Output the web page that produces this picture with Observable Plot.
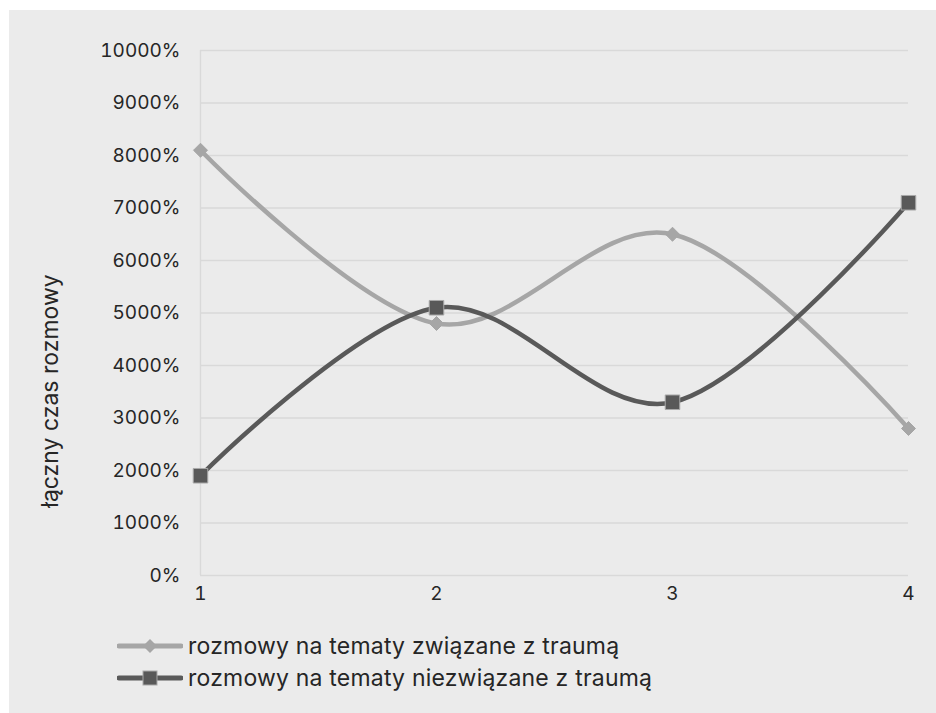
<!DOCTYPE html>
<html>
<head>
<meta charset="utf-8">
<script src="https://cdn.jsdelivr.net/npm/d3@7"></script>
<script src="https://cdn.jsdelivr.net/npm/@observablehq/plot@0.6"></script>
<style>
  html, body { margin: 0; padding: 0; background: #ffffff; }
  body { width: 936px; height: 713px; position: relative; overflow: hidden; font-family: Inter, "Noto Sans", sans-serif; }
  #panel { position: absolute; left: 9px; top: 10px; width: 927px; height: 703px; background: #ebebeb; }
  #chart { position: absolute; left: 0; top: 0; }
  #ylabel { position: absolute; left: 50px; top: 391px; transform: translate(-50%, -50%) rotate(-90deg); white-space: nowrap; font-size: 23px; color: #262626; }
  #legend { position: absolute; left: 117px; top: 630px; font-size: 23px; letter-spacing: 0.2px; color: #262626; }
  .row { display: flex; align-items: center; height: 32px; }
  .row svg { margin-right: 5px; }
</style>
</head>
<body>
<div id="panel"></div>
<div id="chart"></div>
<div id="ylabel"></div>
<div id="legend"></div>
<script>
const categories = [1, 2, 3, 4];
const seriesNames = ["rozmowy na tematy związane z traumą", "rozmowy na tematy niezwiązane z traumą"];
const traumaValues = [8100, 4800, 6500, 2800];
const nonTraumaValues = [1900, 5100, 3300, 7100];
const yTicks = [0, 1000, 2000, 3000, 4000, 5000, 6000, 7000, 8000, 9000, 10000];
const yLabel = "łączny czas rozmowy";
const colors = ["#a6a6a6", "#595959"];

const data = [];
categories.forEach((c, i) => {
  data.push({x: c, y: traumaValues[i], s: seriesNames[0]});
  data.push({x: c, y: nonTraumaValues[i], s: seriesNames[1]});
});
const s1 = data.filter(d => d.s === seriesNames[0]);
const s2 = data.filter(d => d.s === seriesNames[1]);

const chart = Plot.plot({
  width: 936,
  height: 610,
  marginLeft: 200,
  marginRight: 28,
  marginTop: 50,
  marginBottom: 35,
  style: { background: "transparent", fontFamily: "Inter, 'Noto Sans', sans-serif", fontSize: "19px", color: "#262626" },
  x: { domain: [1, 4] },
  y: { domain: [0, 10000] },
  marks: [
    Plot.gridY(yTicks, { stroke: "#d9d9d9", strokeOpacity: 1, strokeWidth: 1.4 }),
    Plot.ruleX([1], { stroke: "#d9d9d9", strokeWidth: 1.4 }),
    Plot.axisY(yTicks, {
      tickSize: 0, tickPadding: 20, tickFormat: d => d + "%",
      label: null, fontSize: 19, fill: "#262626"
    }),
    Plot.axisX(categories, { tickSize: 0, tickPadding: 11, tickFormat: d => String(d), fontSize: 19, fill: "#262626", label: null }),
    Plot.line(s1, { x: "x", y: "y", stroke: colors[0], strokeWidth: 4.5, curve: "cardinal", tension: 0 }),
    Plot.line(s2, { x: "x", y: "y", stroke: colors[1], strokeWidth: 4.5, curve: "cardinal", tension: 0 }),
    Plot.dot(s1, { x: "x", y: "y", symbol: "diamond2", r: 6.3, fill: colors[0], stroke: colors[0], strokeWidth: 1 }),
    Plot.dot(s2, { x: "x", y: "y", symbol: "square", r: 8.2, fill: colors[1], stroke: "#a9a9a9", strokeWidth: 1 })
  ]
});
document.getElementById("chart").appendChild(chart);
document.getElementById("ylabel").textContent = yLabel;

// Legend
const legend = d3.select("#legend");
seriesNames.forEach((name, i) => {
  const row = legend.append("div").attr("class", "row");
  const sw = row.append("svg").attr("width", 66).attr("height", 20);
  sw.append("line").attr("x1", 2).attr("x2", 64).attr("y1", 10).attr("y2", 10)
    .attr("stroke", colors[i]).attr("stroke-width", 5).attr("stroke-linecap", "round");
  if (i === 0) {
    sw.append("path").attr("d", "M33,3 L40,10 L33,17 L26,10 Z").attr("fill", colors[0]);
  } else {
    sw.append("rect").attr("x", 26).attr("y", 3).attr("width", 14).attr("height", 14)
      .attr("fill", colors[1]).attr("stroke", "#a9a9a9").attr("stroke-width", 1);
  }
  row.append("span").text(name);
});
</script>
</body>
</html>
